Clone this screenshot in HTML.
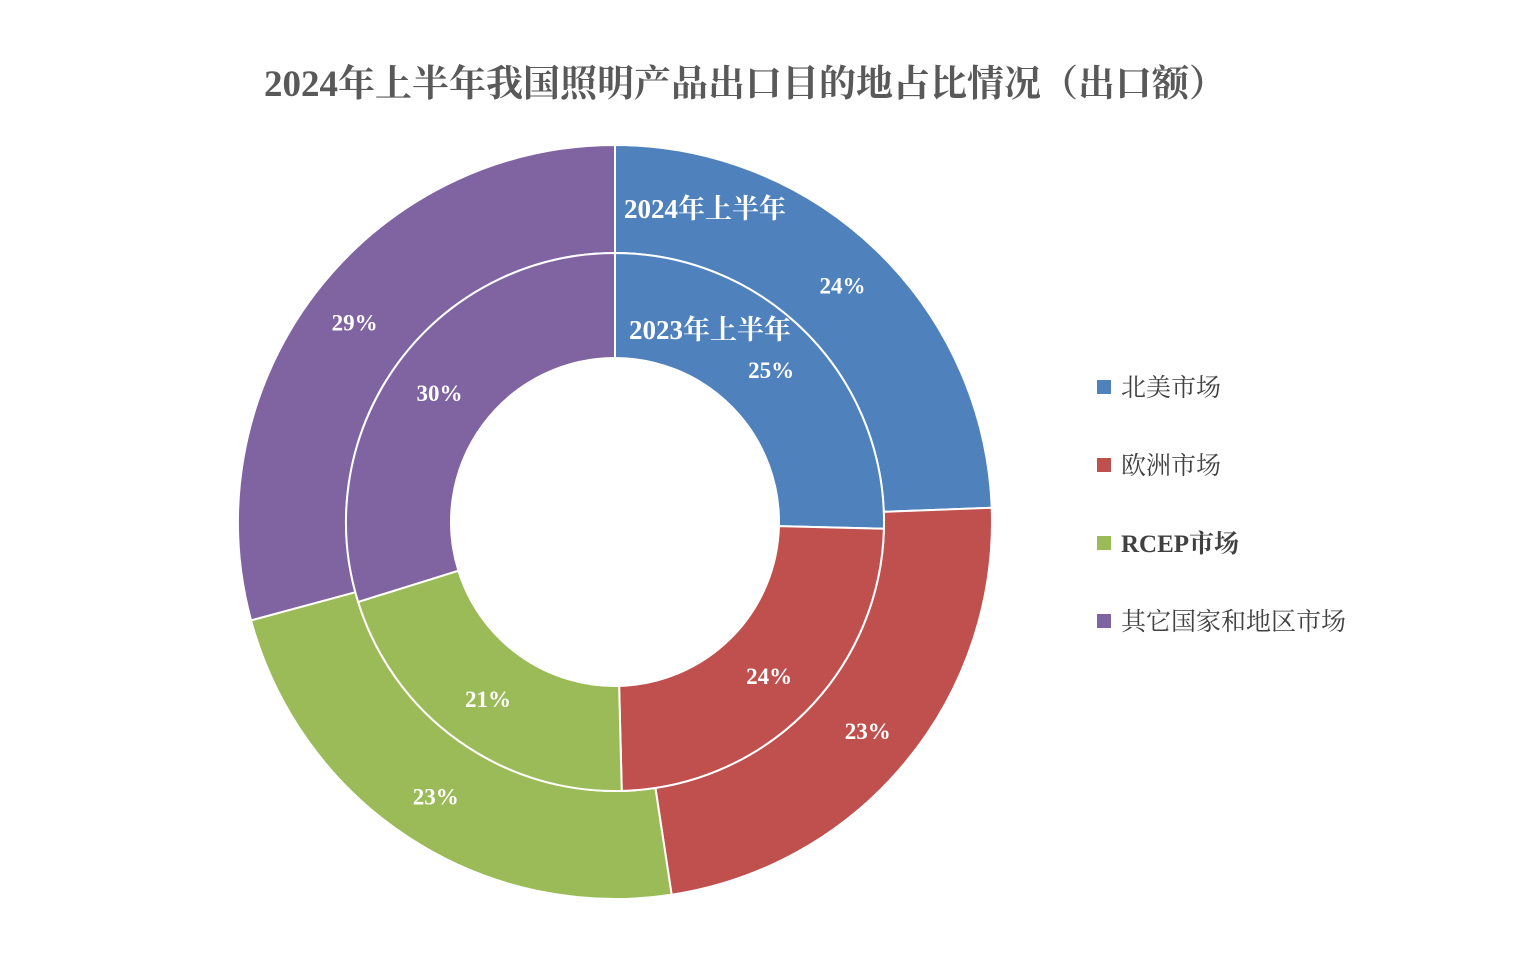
<!DOCTYPE html>
<html><head><meta charset="utf-8"><style>
body{margin:0;background:#fff;width:1533px;height:973px;overflow:hidden}
svg{display:block}
text{font-family:"Liberation Serif","Noto Serif CJK SC",serif}
</style></head><body>
<svg id="chart" width="1533" height="973">
<text x="745" y="96" text-anchor="middle" font-size="37" font-weight="bold" fill="#595959">2024年上半年我国照明产品出口目的地占比情况（出口额）</text>
<g id="rings"></g>
<g id="labels"></g>
<g id="legend"></g>
</svg>
<script>
const categories=["北美市场","欧洲市场","RCEP市场","其它国家和地区市场"];
const colors=["#4f81bd","#c0504d","#9bbb59","#8064a2"];
const series2024=[24.4,23.2,23.2,29.2];
const series2023=[25.4,24.2,20.6,29.8];
const labels2024=["24%","23%","23%","29%"];
const labels2023=["25%","24%","21%","30%"];
const cx=615,cy=522;
const NS="http://www.w3.org/2000/svg";
const rings=document.getElementById('rings'),lab=document.getElementById('labels'),leg=document.getElementById('legend');
function pt(r,a){return [cx+r*Math.sin(a),cy-r*Math.cos(a)];}
function drawRing(vals,r0,r1,labs,lr,name){
  const tot=vals.reduce((a,b)=>a+b,0);let acc=0;
  vals.forEach((v,i)=>{
    const a0=acc/tot*2*Math.PI;acc+=v;const a1=acc/tot*2*Math.PI;
    const lg=(a1-a0)>Math.PI?1:0;
    const p1=pt(r1,a0),p2=pt(r1,a1),p3=pt(r0,a1),p4=pt(r0,a0);
    const p=document.createElementNS(NS,'path');
    p.setAttribute('d',`M${p1}A${r1},${r1} 0 ${lg} 1 ${p2}L${p3}A${r0},${r0} 0 ${lg} 0 ${p4}Z`);
    p.setAttribute('fill',colors[i]);p.setAttribute('stroke','#fff');p.setAttribute('stroke-width','2');
    
    
    rings.appendChild(p);
    const m=(a0+a1)/2,q=pt(lr,m);
    const t=document.createElementNS(NS,'text');
    t.setAttribute('x',q[0]);t.setAttribute('y',q[1]+8);t.setAttribute('text-anchor','middle');
    t.setAttribute('font-size','23');t.setAttribute('font-weight','bold');t.setAttribute('fill','#fff');
    t.textContent=labs[i];
    
    
    lab.appendChild(t);
  });
}
drawRing(series2024,269,377,labels2024,328,'outer-2024');
drawRing(series2023,164,269,labels2023,218,'inner-2023');
[["2024年上半年",705,218],["2023年上半年",710,339]].forEach((s,i)=>{
  const t=document.createElementNS(NS,'text');
  t.setAttribute('x',s[1]);t.setAttribute('y',s[2]);t.setAttribute('text-anchor','middle');
  t.setAttribute('font-size','27');t.setAttribute('font-weight','bold');t.setAttribute('fill','#fff');
  t.textContent=s[0];
  
  
  lab.appendChild(t);
});
categories.forEach((c,i)=>{
  const y=387+i*78;
  const g=document.createElementNS(NS,'g');
  
  
  const r=document.createElementNS(NS,'rect');
  r.setAttribute('x',1097);r.setAttribute('y',y-7);r.setAttribute('width',14);r.setAttribute('height',14);r.setAttribute('fill',colors[i]);
  const t=document.createElementNS(NS,'text');
  t.setAttribute('x',1121);t.setAttribute('y',y+9);t.setAttribute('font-size','25');t.setAttribute('fill','#404040');
  if(i==2)t.setAttribute('font-weight','bold');
  t.textContent=c;
  g.appendChild(r);g.appendChild(t);leg.appendChild(g);
});
</script>
</body></html>
